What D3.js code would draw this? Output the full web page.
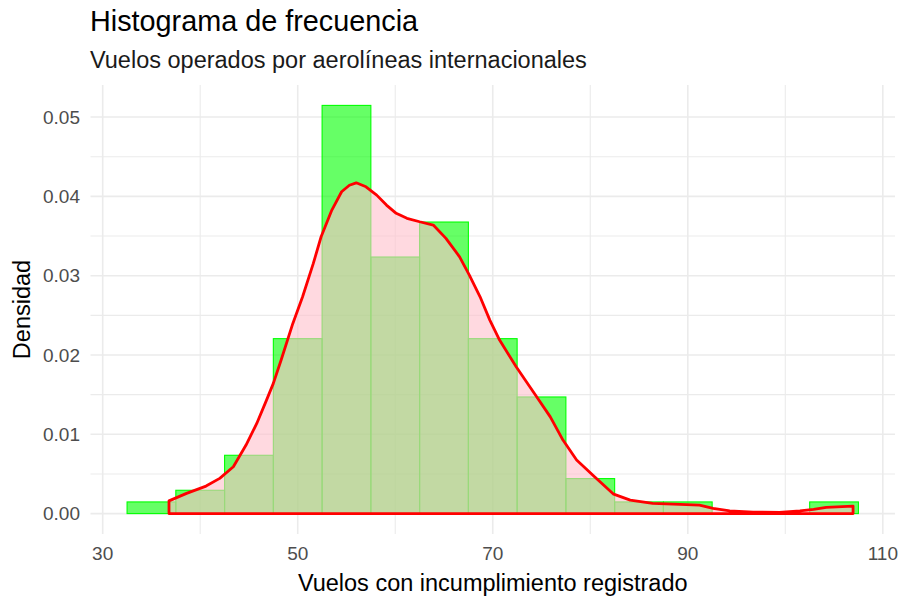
<!DOCTYPE html>
<html>
<head>
<meta charset="utf-8">
<script src="https://cdn.jsdelivr.net/npm/d3@7"></script>
<style>
  body { margin: 0; background: #fff; }
  text { font-family: 'Liberation Sans', Arial, sans-serif; }
</style>
</head>
<body>
<div id="container"></div>
<script>
/* histogram bins (centre of each 5-wide bin) and their counts */
var binCenters = [35, 40, 45, 50, 55, 60, 65, 70, 75, 80, 85, 90, 95, 100, 105]
var binCounts = [1, 2, 5, 15, 35, 22, 25, 15, 10, 3, 1, 1, 0, 0, 1]
var binWidth = 5

/* density curve */
var densityX = [36.8, 38.6, 40.6, 42.0, 43.4, 44.7, 45.8, 46.8, 47.5, 48.3, 49.5, 50.5, 51.6, 52.4, 53.5,
  54.5, 55.3, 56.0, 57.0, 58.1, 59.1, 60.1, 61.2, 62.5, 63.9, 65.2, 66.6, 67.6, 68.7, 69.7, 70.7,
  72.4, 74.5, 75.9, 77.2, 78.6, 80.3, 82.4, 84.1, 86.4, 89.2, 91.2, 92.6, 94.3, 96.7, 99.4,
  101.5, 102.9, 104.2, 106.95]
var densityY = [0.0016, 0.00255, 0.00347, 0.00444, 0.0059, 0.00864, 0.01137, 0.01431, 0.01642, 0.01936,
  0.02398, 0.02734, 0.03155, 0.03491, 0.03827, 0.04058, 0.0414, 0.04171, 0.04121, 0.04016, 0.0389,
  0.03786, 0.03723, 0.0368, 0.03638, 0.0347, 0.03238, 0.03008, 0.02734, 0.0244, 0.02188, 0.01851,
  0.01473, 0.0122, 0.00927, 0.00675, 0.0048, 0.00245, 0.0017, 0.00129, 0.00116, 0.00107, 0.00066,
  0.00035, 0.00019, 0.00015, 0.00035, 0.00053, 0.00078, 0.00095]

var xTicks = [30, 50, 70, 90, 110]
var xMinor = [40, 60, 80, 100]
var yTicks = [0, 0.01, 0.02, 0.03, 0.04, 0.05]
var yMinor = [0.005, 0.015, 0.025, 0.035, 0.045]

var titleText = 'Histograma de frecuencia'
var subtitleText = 'Vuelos operados por aerolíneas internacionales'
var xTitle = 'Vuelos con incumplimiento registrado'
var yTitle = 'Densidad'

var width = 898
var height = 598

var nTotal = d3.sum(binCounts)
var bins = binCenters.map(function (c, i) {
  return { x0: c - binWidth / 2, x1: c + binWidth / 2, density: binCounts[i] / (nTotal * binWidth) }
})
var curve = densityX.map(function (x, i) { return [x, densityY[i]] })

var svg = d3.select('#container').append('svg')
  .attr('width', width)
  .attr('height', height)

// ggplot style 5% expansion on both axes
var xLo = bins[0].x0, xHi = bins[bins.length - 1].x1
var xPad = (xHi - xLo) * 0.05
var yMax = d3.max(bins, function (d) { return d.density })
var yPad = yMax * 0.05

var x = d3.scaleLinear().domain([xLo - xPad, xHi + xPad]).range([90.5, 895])
var y = d3.scaleLinear().domain([-yPad, yMax + yPad]).range([534, 85])

var grid = svg.append('g')

grid.selectAll('.ymin').data(yMinor).enter().append('line')
  .attr('x1', x.range()[0]).attr('x2', x.range()[1])
  .attr('y1', function (d) { return y(d) }).attr('y2', function (d) { return y(d) })
  .style('stroke', '#EBEBEB').style('stroke-width', 1.1)

grid.selectAll('.xmin').data(xMinor).enter().append('line')
  .attr('y1', y.range()[0]).attr('y2', y.range()[1])
  .attr('x1', function (d) { return x(d) }).attr('x2', function (d) { return x(d) })
  .style('stroke', '#EBEBEB').style('stroke-width', 1.1)

grid.selectAll('.ymaj').data(yTicks).enter().append('line')
  .attr('x1', x.range()[0]).attr('x2', x.range()[1])
  .attr('y1', function (d) { return y(d) }).attr('y2', function (d) { return y(d) })
  .style('stroke', '#EBEBEB').style('stroke-width', 1.6)

grid.selectAll('.xmaj').data(xTicks).enter().append('line')
  .attr('y1', y.range()[0]).attr('y2', y.range()[1])
  .attr('x1', function (d) { return x(d) }).attr('x2', function (d) { return x(d) })
  .style('stroke', '#EBEBEB').style('stroke-width', 1.6)

// histogram
svg.append('g').selectAll('rect').data(bins).enter().append('rect')
  .attr('x', function (d) { return x(d.x0) })
  .attr('width', function (d) { return x(d.x1) - x(d.x0) })
  .attr('y', function (d) { return y(d.density) })
  .attr('height', function (d) { return y(0) - y(d.density) })
  .style('fill', 'rgba(0,255,0,0.6)')
  .style('stroke', '#00FF00')
  .style('stroke-width', 1.1)

// density polygon, closed down to the baseline
var area = curve.slice()
area.push([densityX[densityX.length - 1], 0])
area.push([densityX[0], 0])

svg.append('path')
  .datum(area)
  .attr('d', d3.line().x(function (d) { return x(d[0]) }).y(function (d) { return y(d[1]) }).curve(d3.curveLinearClosed))
  .style('fill', 'rgba(255,192,203,0.6)')
  .style('stroke', '#FF0000')
  .style('stroke-width', 2.8)
  .style('stroke-linejoin', 'round')

// tick labels
svg.append('g').selectAll('text').data(xTicks).enter().append('text')
  .attr('x', function (d) { return x(d) })
  .attr('y', 560)
  .attr('text-anchor', 'middle')
  .style('font-size', '19px')
  .style('fill', '#4D4D4D')
  .text(function (d) { return d })

svg.append('g').selectAll('text').data(yTicks).enter().append('text')
  .attr('x', 80)
  .attr('y', function (d) { return y(d) })
  .attr('dy', '.35em')
  .attr('text-anchor', 'end')
  .style('font-size', '19px')
  .style('fill', '#4D4D4D')
  .text(function (d) { return d3.format('.2f')(d) })

// titles
svg.append('text')
  .attr('x', 90).attr('y', 31)
  .style('font-size', '28.8px')
  .style('fill', '#000')
  .text(titleText)

svg.append('text')
  .attr('x', 90).attr('y', 68)
  .style('font-size', '23.5px')
  .style('fill', '#1A1A1A')
  .text(subtitleText)

svg.append('text')
  .attr('x', (x.range()[0] + x.range()[1]) / 2).attr('y', 591)
  .attr('text-anchor', 'middle')
  .style('font-size', '23.5px')
  .style('fill', '#000')
  .text(xTitle)

svg.append('text')
  .attr('transform', 'translate(30,' + ((y.range()[0] + y.range()[1]) / 2) + ') rotate(-90)')
  .attr('text-anchor', 'middle')
  .style('font-size', '23.5px')
  .style('fill', '#000')
  .text(yTitle)
</script>
</body>
</html>
